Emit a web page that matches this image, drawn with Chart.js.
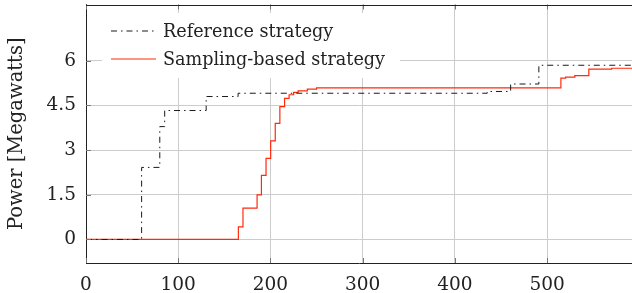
<!DOCTYPE html>
<html>
<head>
<meta charset="utf-8">
<script src="https://cdn.jsdelivr.net/npm/chart.js@4/dist/chart.umd.min.js"></script>
<style>
  html, body { margin: 0; padding: 0; background: #fff; }
  #wrap { width: 632px; height: 293px; }
</style>
</head>
<body>
<div id="wrap"><canvas id="chart"></canvas></div>
<script>
const seriesNames = ["Reference strategy", "Sampling-based strategy"];
const xTicks = [0, 100, 200, 300, 400, 500];
const yTicks = [0, 1.5, 3, 4.5, 6];

// step points: x where the power changes, new value (MW)
const refX = [0, 60.3, 80, 85.3, 130.3, 164.9, 435, 460.4, 491, 592];
const refY = [0, 2.42, 3.79, 4.33, 4.8, 4.91, 4.97, 5.22, 5.85, 5.85];

const sampX = [0, 165.2, 170.2, 185.5, 190.2, 195.2, 200.2, 205.2, 210.2, 215.3, 220.2, 225.1, 230, 240, 250, 514.9, 520, 530, 545.2, 570, 592];
const sampY = [0, 0.42, 1.05, 1.5, 2.15, 2.72, 3.31, 3.9, 4.46, 4.74, 4.86, 4.94, 4.99, 5.05, 5.09, 5.42, 5.45, 5.5, 5.72, 5.75, 5.76];

const FONT = "'DejaVu Serif', serif";

const toPts = (xs, ys) => xs.map((x, i) => ({ x: x, y: ys[i] }));

// frame, inner tick marks and the legend box (pgfplots look)
const framePlugin = {
  id: "frame",
  afterDatasetsDraw(chart) {
    const ctx = chart.ctx;
    const a = chart.chartArea;
    const xs = chart.scales.x, ys = chart.scales.y;
    ctx.save();

    // legend box
    const lx = 102, ly = 13, lw = 298, lh = 65;
    ctx.fillStyle = "#fff";
    ctx.fillRect(lx, ly, lw, lh);
    chart.data.datasets.forEach((ds, i) => {
      const yy = 31 + i * 28;
      ctx.beginPath();
      ctx.strokeStyle = ds.borderColor;
      ctx.lineWidth = ds.borderWidth;
      ctx.setLineDash(ds.borderDash || []);
      ctx.moveTo(111, yy);
      ctx.lineTo(156, yy);
      ctx.stroke();
      ctx.setLineDash([]);
      ctx.fillStyle = "#222";
      ctx.font = "17.6px " + FONT;
      ctx.textBaseline = "alphabetic";
      ctx.fillText(ds.label, 163, yy + 5.5);
    });

    // tick marks on the inside
    ctx.strokeStyle = "#777";
    ctx.lineWidth = 1;
    xTicks.forEach(v => {
      const px = Math.round(xs.getPixelForValue(v)) + 0.5;
      ctx.beginPath();
      ctx.moveTo(px, a.bottom); ctx.lineTo(px, a.bottom - 5);
      ctx.moveTo(px, a.top); ctx.lineTo(px, a.top + 5);
      ctx.stroke();
    });
    yTicks.forEach(v => {
      const py = Math.round(ys.getPixelForValue(v)) + 0.5;
      ctx.beginPath();
      ctx.moveTo(a.left, py); ctx.lineTo(a.left + 5, py);
      ctx.stroke();
    });

    // top border
    ctx.strokeStyle = "#222";
    ctx.beginPath();
    ctx.moveTo(a.left, Math.round(a.top) + 0.5);
    ctx.lineTo(a.right, Math.round(a.top) + 0.5);
    ctx.stroke();
    ctx.restore();
  }
};

new Chart(document.getElementById("chart"), {
  type: "line",
  data: {
    datasets: [
      {
        label: seriesNames[0],
        data: toPts(refX, refY),
        borderColor: "#1a1a1a",
        borderWidth: 1,
        borderDash: [6, 4, 1.5, 4],
        stepped: "before",
        pointRadius: 0,
        fill: false
      },
      {
        label: seriesNames[1],
        data: toPts(sampX, sampY),
        borderColor: "#ff2a0a",
        borderWidth: 1.2,
        stepped: "before",
        pointRadius: 0,
        fill: false
      }
    ]
  },
  options: {
    responsive: true,
    maintainAspectRatio: false,
    animation: false,
    layout: { padding: { left: 0, right: 0, top: 4.5, bottom: 0 } },
    plugins: {
      legend: { display: false },
      tooltip: { enabled: false }
    },
    scales: {
      x: {
        type: "linear",
        min: 0,
        max: 592,
        afterBuildTicks: s => { s.ticks = xTicks.map(v => ({ value: v })); },
        afterFit: s => { s.height = 30; s.paddingLeft = 0; s.paddingRight = 0; },
        grid: { color: "#cccccc", drawTicks: false },
        border: { color: "#222", width: 1 },
        ticks: {
          padding: 11,
          color: "#222",
          font: { family: FONT, size: 18.5 },
          maxRotation: 0,
          callback: v => String(v)
        }
      },
      y: {
        type: "linear",
        min: -0.79,
        max: 7.89,
        afterBuildTicks: s => { s.ticks = yTicks.map(v => ({ value: v })); },
        afterFit: s => { s.width = 86; s.paddingTop = 0; s.paddingBottom = 0; },
        grid: { color: "#cccccc", drawTicks: false },
        border: { color: "#222", width: 1 },
        title: {
          display: true,
          text: "Power [Megawatts]",
          color: "#222",
          font: { family: FONT, size: 19.5 },
          padding: { top: 5, bottom: 0 }
        },
        ticks: {
          padding: 10,
          color: "#222",
          font: { family: FONT, size: 18.5 },
          callback: v => String(v)
        }
      }
    }
  },
  plugins: [framePlugin]
});
</script>
</body>
</html>
